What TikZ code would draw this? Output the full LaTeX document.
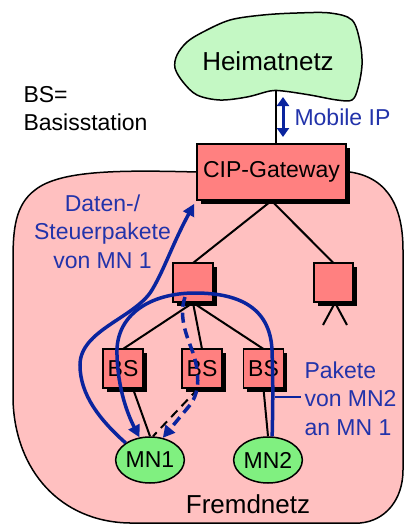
\documentclass[tikz,border=0pt]{standalone}
\usepackage{fontspec}
\setmainfont{Liberation Sans}
\usetikzlibrary{shapes.geometric,shadows,arrows.meta}
\definecolor{cloudgreen}{HTML}{C4F8C4}
\definecolor{mngreen}{HTML}{80F080}
\definecolor{pinkbg}{HTML}{FFC0C0}
\definecolor{boxred}{HTML}{FF8080}
\definecolor{lineblue}{HTML}{0A249E}
\definecolor{textblue}{HTML}{2233AA}
\begin{document}
\begin{tikzpicture}[x=1pt,y=-1pt,
  every node/.style={font=\fontsize{23}{28.5}\selectfont},
  bigtext/.style={font=\fontsize{26}{30}\selectfont},
  boxshadow/.style={drop shadow={shadow xshift=3.5pt,shadow yshift=-3.5pt,opacity=1,fill=black}},
  redbox/.style={draw=black,line width=1.5pt,fill=boxred,boxshadow,inner sep=0pt},
  mnnode/.style={ellipse,draw=black,line width=1.5pt,fill=mngreen,minimum width=64pt,minimum height=46pt,inner sep=0pt},
  link/.style={draw=black,line width=2pt},
  flow/.style={draw=lineblue,line width=3.5pt,-{Triangle[length=12pt,width=12pt]}},
  bluetext/.style={text=textblue},
  region/.style={draw=black,line width=1.5pt},
]
\useasboundingbox (0,0) rectangle (405,525);

% Fremdnetz region
\path[region,fill=pinkbg] (197,172) .. controls (120,170) and (60,170) .. (35,190)
  .. controls (15,205) and (13,230) .. (13,260) -- (13,400)
  .. controls (15,470) and (60,522) .. (130,523) -- (360,523)
  .. controls (385,521) and (403,500) .. (403,470) -- (403,250)
  .. controls (403,210) and (390,178) .. (350,172) -- cycle;

% line from Heimatnetz to gateway
\coordinate (cb) at (276,91);
\node[redbox, minimum width=149pt, minimum height=56pt] (gw) at (271.5,172) {CIP-Gateway};
\draw[link] (cb) -- (cb |- gw.north);

% Heimatnetz cloud
\draw[region,fill=cloudgreen] plot[smooth cycle,tension=0.55] coordinates {
 (175,68) (183,82) (197,95) (220,100) (247,97) (270,91) (283,91) (310,95)
 (337,100) (352,100) (358,88) (362,65) (360,42) (352,20) (330,13) (297,13)
 (263,15) (230,20) (203,32) (187,42) (177,55)};
\node[bigtext] (heim) at (268,61) {Heimatnetz};

% legend
\node[anchor=base west] (bs) at (20,102.7) {BS=};
\node[anchor=base west] (bsx) at (20,130) {Basisstation};

% Mobile IP
\coordinate (ma) at (283,97);
\coordinate (mb) at (283,137);
\draw[lineblue,line width=3pt,{Triangle[length=9pt,width=12pt]}-{Triangle[length=9pt,width=12pt]}] (ma) -- (mb);
\node[anchor=base west,bluetext] (mip) at (291,125) {Mobile IP};

% tree connectors
\coordinate (sq1pos) at (193,282.5);
\coordinate (sq2pos) at (333.5,282.5);
\draw[link] (gw.south) -- (sq1pos |- 0,263);
\draw[link] (gw.south) -- (sq2pos |- 0,263);
\node[redbox, minimum width=40pt, minimum height=39pt] (sq1) at (sq1pos) {};
\node[redbox, minimum width=39pt, minimum height=39pt] (sq2) at (sq2pos) {};
\coordinate (tl) at (323,325);
\coordinate (tr) at (347,325);
\draw[link] ([xshift=1.5pt]sq2.south) -- (tl);
\draw[link] ([xshift=1.5pt]sq2.south) -- (tr);

\coordinate (b1) at (123,368.5);
\coordinate (b2) at (202,368.5);
\coordinate (b3) at (263.5,368.5);
\draw[link] (sq1.south) -- (b1 |- 0,349);
\draw[link] (sq1.south) -- (b2 |- 0,349);
\draw[link] (sq1.south) -- (b3 |- 0,349);
\node[redbox, minimum width=40pt, minimum height=39pt] (bs1) at (b1) {BS};
\node[redbox, minimum width=40pt, minimum height=39pt] (bs2) at (b2) {BS};
\node[redbox, minimum width=40pt, minimum height=39pt] (bs3) at (b3) {BS};

\node[mnnode] (mn1) at (150,460) {MN1};
\node[mnnode] (mn2) at (268,460) {MN2};
\draw[link] ([xshift=10pt]bs1.south) -- (mn1.north);
\draw[link,dash pattern=on 9pt off 6pt] ([xshift=-4pt]bs2.south) -- ([xshift=3pt]mn1.north);
\draw[link] (bs3.south) -- (mn2.north);

% blue flows
\draw[flow] (mn1.145) .. controls (100,420) and (80,395) .. (80,365)
  .. controls (80,330) and (135,318) .. (152,290)
  .. controls (165,268) and (172,245) .. ([shift={(-2pt,-3pt)}]gw.south west);
\draw[flow] (mn2.80) .. controls (273,400) and (273,380) .. (272,350)
  .. controls (270,305) and (235,293) .. (195,293)
  .. controls (150,293) and (115,315) .. (117,355)
  .. controls (118,390) and (128,415) .. (mn1.115);
\coordinate (ds) at (185,297);
\draw[flow,dash pattern=on 10pt off 6pt] (ds) .. controls (179,315) and (185,332) .. (192,350)
  .. controls (200,372) and (200,392) .. (190,405) -- (mn1.60);

% labels (base anchor = baseline of the last line)
\node[anchor=base,bluetext,align=center] (daten) at (102.5,268) {Daten-/\\Steuerpakete\\von MN 1};
\node[anchor=base west,bluetext,align=left] (pak) at (301,435) {Pakete\\von MN2\\an MN 1};
\coordinate (pk) at (275,397);
\draw[lineblue,line width=2pt] (pk) -- (pk -| pak.west);
\node[bigtext,anchor=base] (fremd) at (248,513) {Fremdnetz};
\end{tikzpicture}
\end{document}
